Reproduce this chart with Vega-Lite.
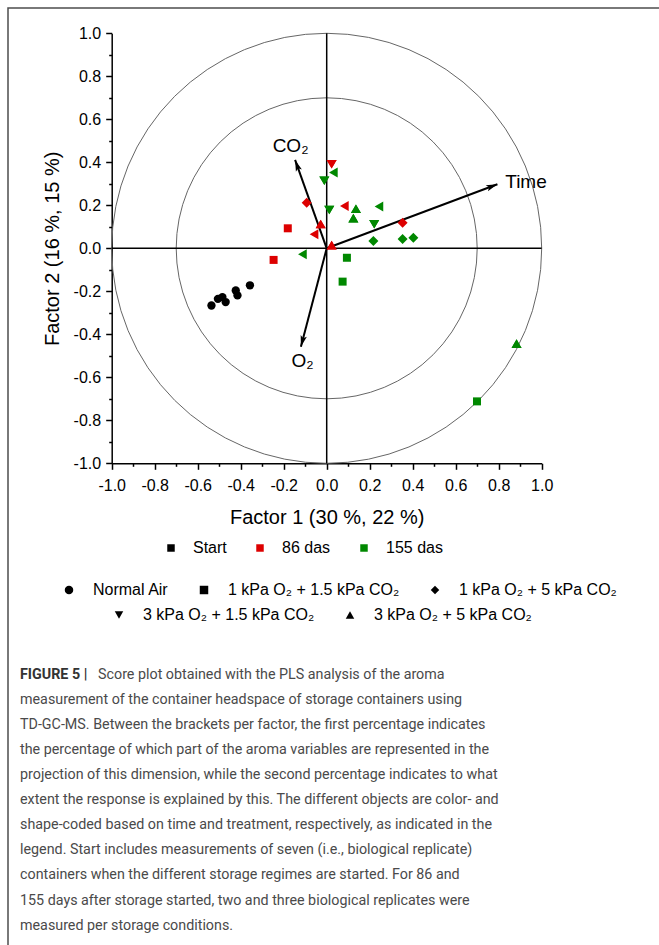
{
  "$schema": "https://vega.github.io/schema/vega-lite/v6.json",
  "width": 700,
  "height": 1000,
  "autosize": {"type": "none"},
  "padding": {"left": 8, "top": 8, "right": 0, "bottom": 0},
  "background": "white",
  "config": {
    "view": {"stroke": "#4d4d4d", "strokeWidth": 1.5},
    "font": "Liberation Sans",
    "axis": {
      "grid": false,
      "domainColor": "black",
      "domainWidth": 1.5,
      "tickColor": "black",
      "tickWidth": 1.5,
      "labelFont": "Liberation Sans",
      "labelFontSize": 16,
      "labelColor": "black",
      "titleFont": "Liberation Sans",
      "titleFontSize": 20,
      "titleFontWeight": "normal",
      "titleColor": "black"
    },
    "legend": {"labelFont": "Liberation Sans", "labelFontSize": 16, "labelColor": "black", "labelLimit": 400}
  },
  "title": {
    "text": "FIGURE 5 |",
    "subtitle": [
      "\u200b\u00a0\u00a0\u00a0\u00a0\u00a0\u00a0\u00a0\u00a0\u00a0\u00a0\u00a0\u00a0\u00a0\u00a0\u00a0\u00a0\u00a0\u00a0\u00a0\u00a0\u00a0\u00a0Score plot obtained with the PLS analysis of the aroma",
      "measurement of the container headspace of storage containers using",
      "TD-GC-MS. Between the brackets per factor, the first percentage indicates",
      "the percentage of which part of the aroma variables are represented in the",
      "projection of this dimension, while the second percentage indicates to what",
      "extent the response is explained by this. The different objects are color- and",
      "shape-coded based on time and treatment, respectively, as indicated in the",
      "legend. Start includes measurements of seven (i.e., biological replicate)",
      "containers when the different storage regimes are started. For 86 and",
      "155 days after storage started, two and three biological replicates were",
      "measured per storage conditions."
    ],
    "orient": "top",
    "anchor": "start",
    "frame": "group",
    "offset": -925,
    "dx": 12,
    "baseline": "top",
    "font": "Roboto",
    "fontSize": 14.3,
    "fontWeight": "bold",
    "color": "#333333",
    "subtitleFont": "Roboto",
    "subtitleFontSize": 14.3,
    "subtitleFontWeight": "normal",
    "subtitleColor": "#4a4a4a",
    "subtitleLineHeight": 25.1,
    "subtitlePadding": -14.3
  },
  "datasets": {
    "circles": [{"cx": 0, "cy": 0, "r": 1}, {"cx": 0, "cy": 0, "r": 0.7}],
    "hline": [{"xa": -1, "xb": 1, "y": 0}],
    "vline": [{"ya": -1, "yb": 1, "x": 0}],
    "vectors": [
      {"name": "CO₂", "ox": 0, "oy": 0, "f1": -0.147, "f2": 0.411, "lx": -0.168, "ly": 0.476},
      {"name": "O₂", "ox": 0, "oy": 0, "f1": -0.12, "f2": -0.458, "lx": -0.112, "ly": -0.523},
      {"name": "Time", "ox": 0, "oy": 0, "f1": 0.794, "f2": 0.298, "lx": 0.927, "ly": 0.31}
    ],
    "points": [
      {"f1": -0.536, "f2": -0.266, "time": "Start", "treatment": "Normal Air"},
      {"f1": -0.506, "f2": -0.235, "time": "Start", "treatment": "Normal Air"},
      {"f1": -0.485, "f2": -0.227, "time": "Start", "treatment": "Normal Air"},
      {"f1": -0.47, "f2": -0.25, "time": "Start", "treatment": "Normal Air"},
      {"f1": -0.423, "f2": -0.196, "time": "Start", "treatment": "Normal Air"},
      {"f1": -0.415, "f2": -0.219, "time": "Start", "treatment": "Normal Air"},
      {"f1": -0.357, "f2": -0.172, "time": "Start", "treatment": "Normal Air"},
      {"f1": -0.181, "f2": 0.093, "time": "86 das", "treatment": "1 kPa O₂ + 1.5 kPa CO₂"},
      {"f1": -0.247, "f2": -0.054, "time": "86 das", "treatment": "1 kPa O₂ + 1.5 kPa CO₂"},
      {"f1": -0.093, "f2": 0.212, "time": "86 das", "treatment": "1 kPa O₂ + 5 kPa CO₂"},
      {"f1": 0.353, "f2": 0.119, "time": "86 das", "treatment": "1 kPa O₂ + 5 kPa CO₂"},
      {"f1": 0.023, "f2": 0.391, "time": "86 das", "treatment": "3 kPa O₂ + 1.5 kPa CO₂"},
      {"f1": -0.028, "f2": 0.113, "time": "86 das", "treatment": "3 kPa O₂ + 5 kPa CO₂"},
      {"f1": 0.023, "f2": 0.015, "time": "86 das", "treatment": "3 kPa O₂ + 5 kPa CO₂"},
      {"f1": 0.082, "f2": 0.197, "time": "86 das", "treatment": "Other"},
      {"f1": -0.059, "f2": 0.065, "time": "86 das", "treatment": "Other"},
      {"f1": 0.094, "f2": -0.044, "time": "155 das", "treatment": "1 kPa O₂ + 1.5 kPa CO₂"},
      {"f1": 0.074, "f2": -0.155, "time": "155 das", "treatment": "1 kPa O₂ + 1.5 kPa CO₂"},
      {"f1": 0.699, "f2": -0.712, "time": "155 das", "treatment": "1 kPa O₂ + 1.5 kPa CO₂"},
      {"f1": 0.217, "f2": 0.034, "time": "155 das", "treatment": "1 kPa O₂ + 5 kPa CO₂"},
      {"f1": 0.353, "f2": 0.043, "time": "155 das", "treatment": "1 kPa O₂ + 5 kPa CO₂"},
      {"f1": 0.403, "f2": 0.049, "time": "155 das", "treatment": "1 kPa O₂ + 5 kPa CO₂"},
      {"f1": -0.011, "f2": 0.314, "time": "155 das", "treatment": "3 kPa O₂ + 1.5 kPa CO₂"},
      {"f1": 0.012, "f2": 0.178, "time": "155 das", "treatment": "3 kPa O₂ + 1.5 kPa CO₂"},
      {"f1": 0.221, "f2": 0.112, "time": "155 das", "treatment": "3 kPa O₂ + 1.5 kPa CO₂"},
      {"f1": 0.136, "f2": 0.184, "time": "155 das", "treatment": "3 kPa O₂ + 5 kPa CO₂"},
      {"f1": 0.124, "f2": 0.14, "time": "155 das", "treatment": "3 kPa O₂ + 5 kPa CO₂"},
      {"f1": 0.883, "f2": -0.443, "time": "155 das", "treatment": "3 kPa O₂ + 5 kPa CO₂"},
      {"f1": 0.031, "f2": 0.353, "time": "155 das", "treatment": "Other"},
      {"f1": 0.243, "f2": 0.194, "time": "155 das", "treatment": "Other"},
      {"f1": -0.113, "f2": -0.028, "time": "155 das", "treatment": "Other"}
    ]
  },
  "layer": [
    {
      "data": {"name": "circles"},
      "mark": {"type": "point", "shape": "circle", "filled": false, "stroke": "#666666", "strokeWidth": 1, "opacity": 1},
      "encoding": {
        "x": {"field": "cx", "type": "quantitative", "axis": null},
        "y": {"field": "cy", "type": "quantitative", "axis": null},
        "size": {"field": "r", "type": "quantitative", "scale": {"type": "pow", "exponent": 2, "domain": [0, 1], "range": [0, 184900], "zero": true}, "legend": null}
      }
    },
    {
      "data": {"name": "hline"},
      "mark": {"type": "rule", "color": "black", "strokeWidth": 1.5},
      "encoding": {
        "x": {"field": "xa", "type": "quantitative", "axis": {"orient": "bottom", "values": [-0.9, -0.7, -0.5, -0.3, -0.1, 0.1, 0.3, 0.5, 0.7, 0.9], "tickSize": 3, "labels": false, "domain": false, "title": null, "offset": -544.7}},
        "x2": {"field": "xb"},
        "y": {"field": "y", "type": "quantitative", "axis": null}
      }
    },
    {
      "data": {"name": "vline"},
      "mark": {"type": "rule", "color": "black", "strokeWidth": 1.5},
      "encoding": {
        "y": {"field": "ya", "type": "quantitative", "axis": {"orient": "left", "values": [-0.9, -0.7, -0.5, -0.3, -0.1, 0.1, 0.3, 0.5, 0.7, 0.9], "tickSize": 3, "labels": false, "domain": false, "title": null, "offset": -103.7}},
        "y2": {"field": "yb"},
        "x": {"field": "x", "type": "quantitative", "axis": null}
      }
    },
    {
      "data": {"name": "vectors"},
      "mark": {"type": "rule", "color": "black", "strokeWidth": 2},
      "encoding": {
        "x": {"field": "ox", "type": "quantitative", "axis": null},
        "y": {"field": "oy", "type": "quantitative", "axis": null},
        "x2": {"field": "f1"},
        "y2": {"field": "f2"}
      }
    },
    {
      "data": {"name": "vectors"},
      "transform": [{"calculate": "atan2(datum.f1, datum.f2) * 180 / PI", "as": "ang"}],
      "mark": {"type": "point", "shape": "M0,0L-0.45,1.6L0,1.25L0.45,1.6Z", "filled": true, "color": "black", "opacity": 1, "size": 200, "strokeWidth": 0},
      "encoding": {
        "x": {"field": "f1", "type": "quantitative", "axis": null},
        "y": {"field": "f2", "type": "quantitative", "axis": null},
        "angle": {"field": "ang", "type": "quantitative", "scale": null}
      }
    },
    {
      "data": {"name": "points"},
      "mark": {"type": "point", "filled": true, "opacity": 1, "strokeWidth": 0, "size": {"expr": "datum.treatment === 'Normal Air' ? 69 : datum.treatment === '1 kPa O₂ + 1.5 kPa CO₂' ? 64 : 100"}},
      "encoding": {
        "x": {
          "field": "f1", "type": "quantitative",
          "scale": {"domain": [-1, 1], "range": [103.7, 533.7], "nice": false, "zero": false},
          "axis": {"orient": "bottom", "title": "Factor 1 (30 %, 22 %)", "values": [-1, -0.8, -0.6, -0.4, -0.2, 0, 0.2, 0.4, 0.6, 0.8, 1], "labelExpr": "replace(format(datum.value, '.1f'), '−', '-')", "offset": -544.7, "tickSize": 6, "labelPadding": 8, "titlePadding": 14, "labelFlush": false, "labelOverlap": false}
        },
        "y": {
          "field": "f2", "type": "quantitative",
          "scale": {"domain": [-1, 1], "range": [455.3, 25.3], "nice": false, "zero": false},
          "axis": {"orient": "left", "title": "Factor 2 (16 %, 15 %)", "values": [-1, -0.8, -0.6, -0.4, -0.2, 0, 0.2, 0.4, 0.6, 0.8, 1], "labelExpr": "replace(format(datum.value, '.1f'), '−', '-')", "offset": -103.7, "tickSize": 6, "labelPadding": 5, "titlePadding": 11, "labelFlush": false, "labelOverlap": false}
        },
        "color": {
          "field": "time", "type": "nominal",
          "scale": {"domain": ["Start", "86 das", "155 das"], "range": ["#000000", "#dd0000", "#008800"]},
          "legend": {"title": null, "orient": "none", "legendX": 155, "legendY": 532, "direction": "horizontal", "symbolType": "square", "symbolSize": 56, "labelOffset": 14, "columnPadding": 25}
        },
        "shape": {
          "field": "treatment", "type": "nominal",
          "scale": {"domain": ["Normal Air", "1 kPa O₂ + 1.5 kPa CO₂", "1 kPa O₂ + 5 kPa CO₂", "3 kPa O₂ + 1.5 kPa CO₂", "3 kPa O₂ + 5 kPa CO₂", "Other"], "range": ["circle", "square", "diamond", "triangle-down", "triangle-up", "triangle-left"]},
          "legend": {"title": null, "orient": "none", "legendX": 53, "legendY": 574, "direction": "horizontal", "values": ["Normal Air", "1 kPa O₂ + 1.5 kPa CO₂", "1 kPa O₂ + 5 kPa CO₂"], "symbolSize": 72, "symbolFillColor": "black", "symbolStrokeWidth": 0, "labelOffset": 16, "columnPadding": 27}
        }
      }
    },
    {
      "data": {"name": "points"},
      "transform": [{"filter": {"field": "treatment", "oneOf": ["3 kPa O₂ + 1.5 kPa CO₂", "3 kPa O₂ + 5 kPa CO₂"]}}],
      "mark": {"type": "point", "filled": true, "opacity": 1, "strokeWidth": 0, "size": 100},
      "encoding": {
        "x": {"field": "f1", "type": "quantitative", "axis": null},
        "y": {"field": "f2", "type": "quantitative", "axis": null},
        "color": {"field": "time", "type": "nominal"},
        "shape": {
          "field": "treatment", "type": "nominal",
          "scale": {"domain": ["Normal Air", "1 kPa O₂ + 1.5 kPa CO₂", "1 kPa O₂ + 5 kPa CO₂", "3 kPa O₂ + 1.5 kPa CO₂", "3 kPa O₂ + 5 kPa CO₂", "Other"], "range": ["circle", "square", "diamond", "triangle-down", "triangle-up", "triangle-left"]},
          "legend": {"title": null, "orient": "none", "legendX": 103, "legendY": 599, "direction": "horizontal", "values": ["3 kPa O₂ + 1.5 kPa CO₂", "3 kPa O₂ + 5 kPa CO₂"], "symbolSize": 72, "symbolFillColor": "black", "symbolStrokeWidth": 0, "labelOffset": 16, "columnPadding": 27}
        }
      }
    },
    {
      "data": {"name": "vectors"},
      "mark": {"type": "text", "fontSize": 19, "font": "Liberation Sans", "color": "black", "align": "center", "baseline": "middle"},
      "encoding": {
        "x": {"field": "lx", "type": "quantitative", "axis": null},
        "y": {"field": "ly", "type": "quantitative", "axis": null},
        "text": {"field": "name", "type": "nominal"}
      }
    }
  ],
  "resolve": {
    "axis": {"x": "independent", "y": "independent"},
    "scale": {"shape": "independent", "size": "independent"},
    "legend": {"shape": "independent"}
  }
}
